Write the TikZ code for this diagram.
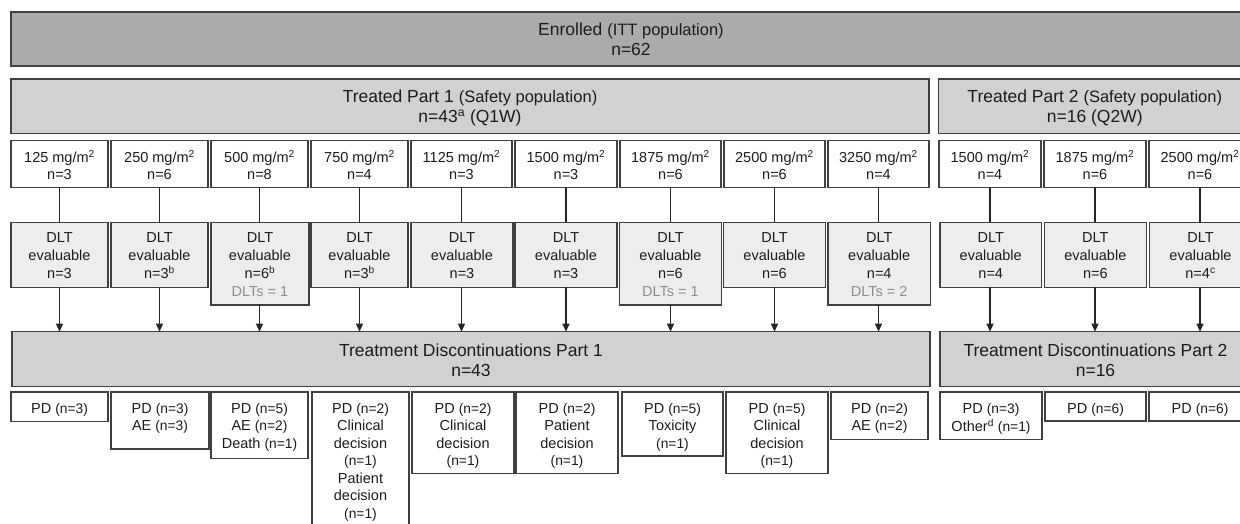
\documentclass[tikz,border=0pt]{standalone}
\usepackage{fontspec}
\setmainfont{Liberation Sans}
\usetikzlibrary{arrows.meta}
\definecolor{enrfill}{HTML}{ABABAB}
\definecolor{hdrfill}{HTML}{D1D1D1}
\definecolor{dltfill}{HTML}{EDEDED}
\definecolor{bordc}{HTML}{404040}
\definecolor{txtc}{HTML}{1C1C1C}
\definecolor{dltsc}{HTML}{8E8E8E}
\newcommand\bx[8]{\node[#1] (#2) at (#3,#4) {\parbox[c][#6pt][t]{#5pt}{\centering\vspace*{#7pt}\strut#8\par}};}
\newcommand\hsm[1]{{\fontsize{16.5pt}{20pt}\selectfont#1}}
\newcommand\sm[1]{{\fontsize{13.8pt}{17.5pt}\selectfont#1}}
\newcommand\sups[1]{\textsuperscript{#1}}
\newcommand\dlts[1]{\\{\color{dltsc}DLTs = #1}}
\newcommand\mgm{mg/m\textsuperscript{2}}
\begin{document}
\begin{tikzpicture}[x=1pt,y=-1pt,
  boxbase/.style={draw=bordc,line width=1.3pt,inner sep=0pt,outer sep=0pt,anchor=north west,text=txtc},
  enrbox/.style={boxbase,fill=enrfill,font=\fontsize{17.5pt}{20pt}\selectfont},
  hdrbox/.style={boxbase,fill=hdrfill,font=\fontsize{17.5pt}{20pt}\selectfont},
  dosebox/.style={boxbase,fill=white,font=\fontsize{14.5pt}{17pt}\selectfont},
  dltbox/.style={boxbase,fill=dltfill,font=\fontsize{14.5pt}{18pt}\selectfont},
  resbox/.style={boxbase,fill=white,font=\fontsize{14.5pt}{17.5pt}\selectfont},
  conn/.style={draw=black!85,line width=1.2pt},
  arr/.style={conn,-{Triangle[length=8pt,width=7pt]}}]
\useasboundingbox (0,0) rectangle (1240,524);
\clip (0,0) rectangle (1240,524);
\fill[white] (0,0) rectangle (1240,524);

% top headers
\bx{enrbox}{enr}{11}{12}{1240}{54}{9.3}{Enrolled \hsm{(ITT population)}\\n=62}
\bx{hdrbox}{tp1}{11}{79}{918}{54.3}{9.7}{Treated Part 1 \hsm{(Safety population)}\\n=43\sups{a} (Q1W)}
\bx{hdrbox}{tp2}{938.5}{79}{312.5}{54.3}{9.7}{Treated Part 2 \hsm{(Safety population)}\\n=16 (Q2W)}

% dose boxes
\bx{dosebox}{d1}{11}{140.7}{97}{46.6}{9.7}{125 \mgm\\n=3}
\bx{dosebox}{d2}{111}{140.7}{97}{46.6}{9.7}{250 \mgm\\n=6}
\bx{dosebox}{d3}{211}{140.7}{97}{46.6}{9.7}{500 \mgm\\n=8}
\bx{dosebox}{d4}{311}{140.7}{97}{46.6}{9.7}{750 \mgm\\n=4}
\bx{dosebox}{d5}{411}{140.7}{101}{46.6}{9.7}{1125 \mgm\\n=3}
\bx{dosebox}{d6}{515}{140.7}{102}{46.6}{9.7}{1500 \mgm\\n=3}
\bx{dosebox}{d7}{620}{140.7}{101}{46.6}{9.7}{1875 \mgm\\n=6}
\bx{dosebox}{d8}{724}{140.7}{101}{46.6}{9.7}{2500 \mgm\\n=6}
\bx{dosebox}{d9}{828}{140.7}{101}{46.6}{9.7}{3250 \mgm\\n=4}
\bx{dosebox}{d10}{939}{140.7}{102}{46.6}{9.7}{1500 \mgm\\n=4}
\bx{dosebox}{d11}{1044}{140.7}{102}{46.6}{9.7}{1875 \mgm\\n=6}
\bx{dosebox}{d12}{1149}{140.7}{102}{46.6}{9.7}{2500 \mgm\\n=6}

% DLT boxes
\bx{dltbox}{e1}{11}{222.3}{97}{65}{7.4}{DLT\\evaluable\\n=3}
\bx{dltbox}{e2}{111}{222.3}{97}{65}{7.4}{DLT\\evaluable\\n=3\sups{b}}
\bx{dltbox}{e3}{211}{222.3}{98}{82.7}{7.4}{DLT\\evaluable\\n=6\sups{b}\dlts{1}}
\bx{dltbox}{e4}{311}{222.3}{97}{65}{7.4}{DLT\\evaluable\\n=3\sups{b}}
\bx{dltbox}{e5}{411}{222.3}{102}{65}{7.4}{DLT\\evaluable\\n=3}
\bx{dltbox}{e6}{515}{222.3}{102}{65}{7.4}{DLT\\evaluable\\n=3}
\bx{dltbox}{e7}{619.5}{222.3}{102}{82.7}{7.4}{DLT\\evaluable\\n=6\dlts{1}}
\bx{dltbox}{e8}{723.5}{222.3}{102}{65}{7.4}{DLT\\evaluable\\n=6}
\bx{dltbox}{e9}{828}{222.3}{102.5}{82.7}{7.4}{DLT\\evaluable\\n=4\dlts{2}}
\bx{dltbox}{e10}{940}{222.3}{101.5}{65}{7.4}{DLT\\evaluable\\n=4}
\bx{dltbox}{e11}{1044.3}{222.3}{102}{65}{7.4}{DLT\\evaluable\\n=6}
\bx{dltbox}{e12}{1149.5}{222.3}{102}{65}{7.4}{DLT\\evaluable\\n=4\sups{c}}

% discontinuation headers
\bx{hdrbox}{dc1}{12}{331.7}{918}{55}{10.3}{Treatment Discontinuations Part 1\\n=43}
\bx{hdrbox}{dc2}{940}{331.7}{311}{55}{10.3}{Treatment Discontinuations Part 2\\n=16}

% reasons
\bx{resbox}{r1}{11}{392}{97}{29.7}{8.75}{PD \sm{(n=3)}}
\bx{resbox}{r2}{111}{392}{98}{57}{8.75}{PD \sm{(n=3)}\\AE \sm{(n=3)}}
\bx{resbox}{r3}{211}{392}{97}{66.3}{8.75}{PD \sm{(n=5)}\\AE \sm{(n=2)}\\Death \sm{(n=1)}}
\bx{resbox}{r4}{312}{392}{97}{140}{8.75}{PD \sm{(n=2)}\\Clinical\\decision\\\sm{(n=1)}\\Patient\\decision\\\sm{(n=1)}}
\bx{resbox}{r5}{412}{392}{102}{81.3}{8.75}{PD \sm{(n=2)}\\Clinical\\decision\\\sm{(n=1)}}
\bx{resbox}{r6}{516}{392}{102}{81.3}{8.75}{PD \sm{(n=2)}\\Patient\\decision\\\sm{(n=1)}}
\bx{resbox}{r7}{622}{392}{101}{64}{8.75}{PD \sm{(n=5)}\\Toxicity\\\sm{(n=1)}}
\bx{resbox}{r8}{726}{392}{102}{81.3}{8.75}{PD \sm{(n=5)}\\Clinical\\decision\\\sm{(n=1)}}
\bx{resbox}{r9}{831}{392}{97}{47.3}{8.75}{PD \sm{(n=2)}\\AE \sm{(n=2)}}
\bx{resbox}{r10}{940}{392}{102}{47.3}{8.75}{PD \sm{(n=3)}\\Other\sups{d} \sm{(n=1)}}
\bx{resbox}{r11}{1045}{392}{101}{29}{8.75}{PD \sm{(n=6)}}
\bx{resbox}{r12}{1149}{392}{102}{29}{8.75}{PD \sm{(n=6)}}

% connectors
\foreach \i in {1,...,12} {
  \draw[conn] (d\i.south) -- (d\i.south |- e\i.north);
}
\foreach \i in {1,...,9} {
  \draw[arr] (d\i.south |- e\i.south) -- (d\i.south |- dc1.north);
}
\foreach \i in {10,11,12} {
  \draw[arr] (d\i.south |- e\i.south) -- (d\i.south |- dc2.north);
}
\end{tikzpicture}
\end{document}
